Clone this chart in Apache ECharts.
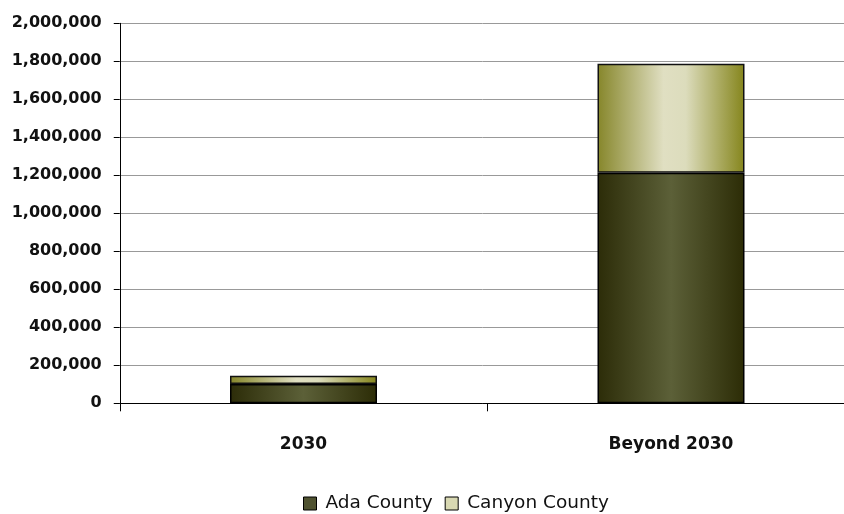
<!DOCTYPE html>
<html><head><meta charset="utf-8">
<script src="https://cdn.jsdelivr.net/npm/echarts@6/dist/echarts.min.js"></script>
<style>html,body{margin:0;padding:0;background:#fff}#c{width:844px;height:514px}</style>
</head><body><div id="c"></div>
<script>
const categories = ['2030', 'Beyond 2030'];
const adaCounty = [101000, 1214000];
const canyonCounty = [44000, 573000];
const yTicks = [0, 200000, 400000, 600000, 800000, 1000000, 1200000, 1400000, 1600000, 1800000, 2000000];

const fontFam = '"DejaVu Sans", sans-serif';
const adaGrad = {type:'linear',x:0,y:0,x2:1,y2:0,colorStops:[
  {offset:0,color:'#2c2c08'},{offset:0.5,color:'#5c6038'},{offset:1,color:'#2c2c06'}]};
const canGrad = {type:'linear',x:0,y:0,x2:1,y2:0,colorStops:[
  {offset:0,color:'#86862a'},{offset:0.45,color:'#e0dfc2'},{offset:0.6,color:'#dcdcbc'},{offset:1,color:'#85851c'}]};

const chart = echarts.init(document.getElementById('c'));
chart.setOption({
  animation:false,
  grid:{left:119.75,right:-10.75,top:23.3,bottom:110.7,containLabel:false,outerBoundsMode:'none'},
  legend:{
    left:298, top:489, itemWidth:13, itemHeight:13, itemGap:12,
    textStyle:{fontFamily:fontFam,fontSize:18.5,color:'#111',padding:[0,0,0,4]},
    data:[
      {name:'Ada County',icon:'rect',itemStyle:{color:'#4f5230',borderColor:'#000',borderWidth:1}},
      {name:'Canyon County',icon:'rect',itemStyle:{color:'#d8d8b2',borderColor:'#000',borderWidth:1}}
    ]
  },
  xAxis:{
    type:'category', data:categories, boundaryGap:true,
    axisLine:{show:true,lineStyle:{color:'#000',width:1}},
    axisTick:{show:true,length:8,interval:0,alignWithLabel:false,lineStyle:{color:'#000'}},
    axisLabel:{margin:33,fontFamily:fontFam,fontWeight:'bold',fontSize:17,color:'#111'}
  },
  yAxis:{
    type:'value', min:yTicks[0], max:yTicks[yTicks.length-1], interval:200000,
    axisLine:{show:true,lineStyle:{color:'#000',width:1}},
    axisTick:{show:true,length:6,lineStyle:{color:'#000'}},
    splitLine:{show:true,lineStyle:{color:'#999',width:1}},
    axisLabel:{margin:18,fontFamily:fontFam,fontWeight:'bold',fontSize:16,color:'#111',
      formatter:v=>v.toLocaleString('en-US')}
  },
  series:[
    {name:'Ada County',type:'bar',stack:'t',data:adaCounty,barWidth:'40%',
     itemStyle:{color:adaGrad,borderColor:'#000',borderWidth:1.5}},
    {name:'Canyon County',type:'bar',stack:'t',data:canyonCounty,barWidth:'40%',
     itemStyle:{color:canGrad,borderColor:'#111',borderWidth:1.5}}
  ]
});
</script></body></html>
